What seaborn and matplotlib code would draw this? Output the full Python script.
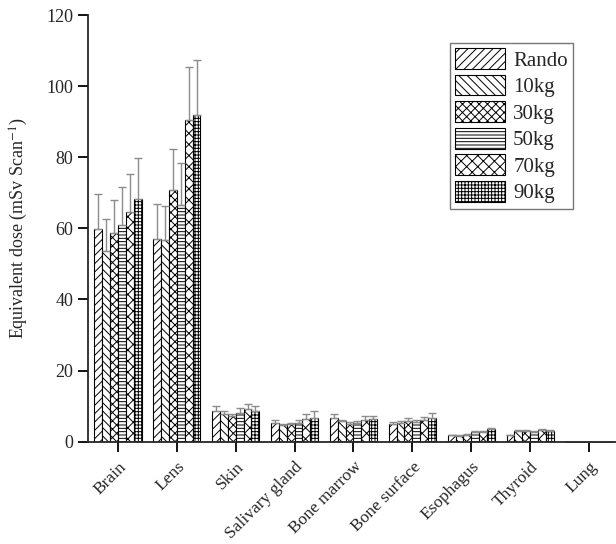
import numpy as np
import pandas as pd
import matplotlib
matplotlib.use("Agg")
import matplotlib.pyplot as plt
from matplotlib.patches import Patch
import matplotlib.transforms as mtransforms
import seaborn as sns

organs = ["Brain", "Lens", "Skin", "Salivary gland", "Bone marrow",
          "Bone surface", "Esophagus", "Thyroid", "Lung"]
groups = ["Rando", "10kg", "30kg", "50kg", "70kg", "90kg"]

rando = [59.7, 57.0, 8.6, 5.3, 6.8, 4.9, 1.8, 1.8, 0.0]
kg10 = [53.6, 56.6, 7.8, 4.7, 5.8, 5.3, 1.6, 3.0, 0.0]
kg30 = [58.8, 70.9, 7.2, 4.9, 5.0, 5.8, 2.0, 3.0, 0.0]
kg50 = [61.0, 66.7, 8.2, 5.3, 5.3, 5.6, 2.6, 2.6, 0.0]
kg70 = [64.7, 90.6, 9.1, 6.5, 6.2, 6.0, 2.8, 3.3, 0.0]
kg90 = [68.2, 92.0, 8.6, 6.7, 6.3, 6.8, 3.5, 3.1, 0.0]

err_rando = [10.0, 9.9, 1.4, 0.7, 1.1, 0.5, 0.2, 0.2, 0.0]
err_kg10 = [8.9, 9.6, 0.8, 0.3, 0.4, 0.5, 0.2, 0.3, 0.0]
err_kg30 = [9.1, 11.3, 0.5, 0.4, 0.4, 0.8, 0.3, 0.3, 0.0]
err_kg50 = [10.6, 11.7, 1.3, 0.9, 0.4, 0.6, 0.3, 0.3, 0.0]
err_kg70 = [10.5, 14.9, 1.6, 1.3, 1.0, 0.9, 0.3, 0.3, 0.0]
err_kg90 = [11.5, 15.4, 1.4, 1.9, 0.9, 1.2, 0.4, 0.3, 0.0]

yticks = [0, 20, 40, 60, 80, 100, 120]

values = [rando, kg10, kg30, kg50, kg70, kg90]
errors = [err_rando, err_kg10, err_kg30, err_kg50, err_kg70, err_kg90]
hatches = ["////", "\\\\\\\\", "xxxx", "-----", "xxx", "+++++"]

df = pd.DataFrame({
    "organ": np.repeat([organs], len(groups), axis=0).ravel(),
    "group": np.repeat(groups, len(organs)),
    "dose": np.concatenate(values),
})

sns.set_style("ticks")
plt.rcParams["font.family"] = ["Liberation Serif", "DejaVu Serif"]
plt.rcParams["mathtext.fontset"] = "stix"
plt.rcParams["hatch.linewidth"] = 0.7

fig = plt.figure(figsize=(6.16, 5.44), dpi=100)
ax = fig.add_axes([88 / 616, (544 - 441.7) / 544, 1 - 88 / 616, (441.7 - 15) / 544])

sns.barplot(data=df, x="organ", y="dose", hue="group", order=organs,
            hue_order=groups, palette=["white"] * len(groups),
            edgecolor="black", linewidth=0.8, errorbar=None, width=0.8,
            ax=ax, legend=False)

for cont, h, errs in zip(ax.containers, hatches, errors):
    xs, tops = [], []
    for bar in cont:
        bar.set_hatch(h)
        bar.set_edgecolor("black")
        xs.append(bar.get_x() + bar.get_width() / 2)
        tops.append(bar.get_height())
    ax.errorbar(xs, tops, yerr=[np.zeros(len(errs)), errs], fmt="none",
                ecolor="#8c8c8c", elinewidth=1.0, capsize=2.8, capthick=1.0,
                zorder=1)

ax.set_ylim(0, 120)
ax.set_yticks(yticks)
ax.set_xlim(-0.51, 8.46)
ax.set_xlabel("")
ax.set_ylabel(r"Equivalent dose (mSv Scan$^{-1}$)", fontsize=13)
ax.yaxis.set_label_coords(-0.11, 0.5)
sns.despine(ax=ax)
ax.spines["left"].set_linewidth(1.3)
ax.spines["bottom"].set_linewidth(1.3)
ax.tick_params(axis="both", direction="out", length=7, width=1.3,
               color="black")
ax.tick_params(axis="y", labelsize=13)
ax.set_xticks(range(len(organs)))
ax.set_xticklabels(organs, rotation=45, ha="right", va="center",
                   rotation_mode="anchor", fontsize=12.5)
offset = mtransforms.ScaledTranslation(6 / 100, -8 / 100, fig.dpi_scale_trans)
for lab in ax.get_xticklabels():
    lab.set_transform(lab.get_transform() + offset)

handles = [Patch(facecolor="white", edgecolor="black", hatch=h, linewidth=0.8)
           for h in hatches]
leg = ax.legend(handles, groups, loc="upper right",
                bbox_to_anchor=(573 / 616, 1 - 43 / 544),
                bbox_transform=fig.transFigure, fontsize=15, frameon=True,
                fancybox=False, edgecolor="#555555", handlelength=2.4,
                handleheight=1.15, labelspacing=0.2, handletextpad=0.4,
                borderpad=0.25, borderaxespad=0)
leg.get_frame().set_linewidth(1.0)

fig.savefig("out.png", dpi=100)
